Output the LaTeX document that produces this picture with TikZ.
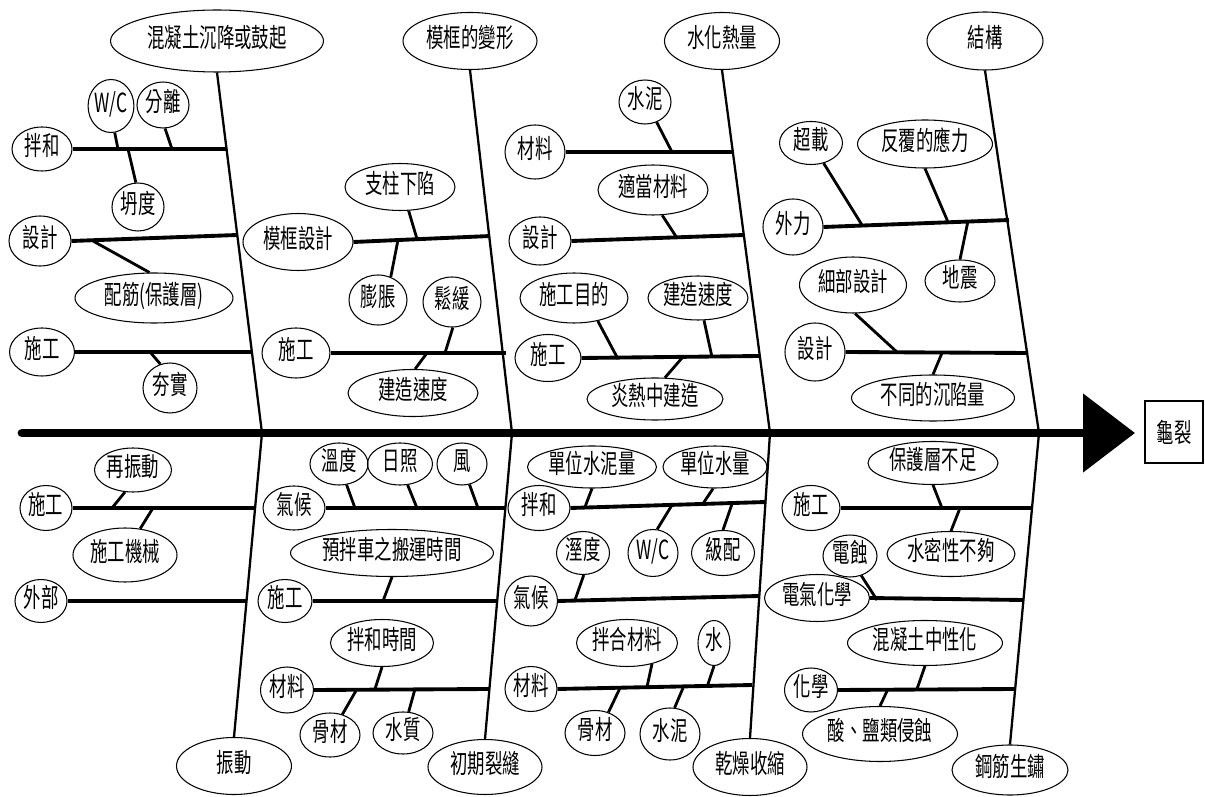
\documentclass[tikz,border=0pt]{standalone}
\usepackage{fontspec}
\newfontfamily\cjk[FakeStretch=0.66]{Noto Sans CJK TC}
\usetikzlibrary{
    shapes.geometric,
    arrows.meta,
    positioning
}
\tikzset{
    cause/.style={draw, ellipse, inner sep=0pt, line width=0.6pt,
        text height=0.8em, text depth=0.1em,
        font=\cjk\fontsize{15}{16}\selectfont},
    sz/.style 2 args={minimum width=#1*0.02cm, minimum height=#2*0.02cm},
    spine/.style={line width=5pt, line cap=round,
        -{Triangle[length=1.04cm, width=1.54cm]}},
    bone/.style={line width=1.3pt},
    branch/.style={line width=2.2pt},
    twig/.style={line width=1.6pt}
}

\begin{document}
\begin{tikzpicture}[x=0.02cm, y=-0.02cm]
    \useasboundingbox (0,0) rectangle (1205,797);

    % Effect and main spine
    \node[draw, line width=0.6pt, minimum width=1.16cm, minimum height=1.24cm,
        font=\cjk\fontsize{15}{16}\selectfont] (crack) at (1174,432) {龜裂};
    \coordinate (tail) at (22,433);
    \coordinate (tip) at (1135,433);
    \draw[spine] (tail) -- (tip);

    % Heads of the main bones
    \node[cause, sz={213}{62}] (h1) at (217,41) {混凝土沉降或鼓起};
    \node[cause, sz={134}{57}] (h2) at (470,41) {模框的變形};
    \node[cause, sz={115}{57}] (h3) at (722,41) {水化熱量};
    \node[cause, sz={116}{58}] (h4) at (985,41) {結構};
    \node[cause, sz={115}{57}] (h5) at (234,766) {振動};
    \node[cause, sz={114}{55}] (h6) at (485,767) {初期裂縫};
    \node[cause, sz={114}{57}] (h7) at (750,767) {乾燥收縮};
    \node[cause, sz={116}{50}] (h8) at (1010,770) {鋼筋生鏽};

    % Main bones
    \coordinate (s1) at (262,433);
    \coordinate (s2) at (512,433);
    \coordinate (s3) at (770,433);
    \coordinate (s4) at (1039,433);
    \draw[bone] (h1.south) -- (s1);
    \draw[bone] (h2.south) -- (s2);
    \draw[bone] (h3.south) -- (s3);
    \draw[bone] (h4.south) -- (s4);
    \draw[bone] (s1) -- (h5.north);
    \draw[bone] (s2) -- (h6.north);
    \draw[bone] (s3) -- (h7.north);
    \draw[bone] (s4) -- (h8.north);

    % Bone 1: concrete settling
    \node[cause, sz={60}{44}] (mix1) at (42,149) {拌和};
    \node[cause, sz={42}{53}] (wc1) at (111,106) {W/C};
    \node[cause, sz={52}{46}] (sep1) at (163,105) {分離};
    \node[cause, sz={52}{48}] (slump1) at (138,207) {坍度};
    \node[cause, sz={62}{50}] (des1) at (40,241) {設計};
    \node[cause, sz={158}{50}] (rebar1) at (154,298) {配筋(保護層)};
    \node[cause, sz={65}{48}] (con1) at (42,352) {施工};
    \node[cause, sz={54}{50}] (tamp1) at (170,388) {夯實};
    \coordinate (j1a) at (227,149);
    \coordinate (j1b) at (237,235);
    \coordinate (j1c) at (252,352);
    \draw[branch] (mix1.east) -- (j1a);
    \draw[branch] (des1.east) -- (j1b);
    \draw[branch] (con1.east) -- (j1c);
    \coordinate (k1a) at (118,149);
    \coordinate (k1b) at (172,149);
    \coordinate (k1c) at (128,149);
    \coordinate (k1d) at (93,241);
    \coordinate (k1e) at (150,352);
    \draw[twig] (wc1.278) -- (k1a);
    \draw[twig] (sep1.275) -- (k1b);
    \draw[twig] (slump1.95) -- (k1c);
    \draw[twig] (rebar1.100) -- (k1d);
    \draw[twig] (tamp1.112) -- (k1e);

    % Bone 2: formwork deformation
    \node[cause, sz={110}{57}] (fdes2) at (298,242) {模框設計};
    \node[cause, sz={110}{47}] (prop2) at (400,187) {支柱下陷};
    \node[cause, sz={58}{50}] (swell2) at (378,300) {膨脹};
    \node[cause, sz={58}{50}] (loose2) at (452,302) {鬆緩};
    \node[cause, sz={68}{50}] (con2) at (296,353) {施工};
    \node[cause, sz={130}{47}] (speed2) at (413,393) {建造速度};
    \coordinate (j2a) at (490,236);
    \coordinate (j2b) at (506,353);
    \draw[branch] (fdes2.east) -- (j2a);
    \draw[branch] (con2.east) -- (j2b);
    \coordinate (k2a) at (417,239);
    \coordinate (k2b) at (398,240);
    \coordinate (k2c) at (445,353);
    \coordinate (k2d) at (427,353);
    \draw[twig] (prop2.290) -- (k2a);
    \draw[twig] (swell2.61) -- (k2b);
    \draw[twig] (loose2.272) -- (k2c);
    \draw[twig] (speed2.85) -- (k2d);

    % Bone 3: heat of hydration
    \node[cause, sz={60}{54}] (mat3) at (535,152) {材料};
    \node[cause, sz={52}{44}] (cem3) at (645,102) {水泥};
    \node[cause, sz={62}{48}] (des3) at (540,241) {設計};
    \node[cause, sz={110}{50}] (fit3) at (653,190) {適當材料};
    \node[cause, sz={66}{47}] (con3) at (548,358) {施工};
    \node[cause, sz={108}{50}] (aim3) at (574,298) {施工目的};
    \node[cause, sz={100}{44}] (speed3) at (698,298) {建造速度};
    \node[cause, sz={136}{42}] (hot3) at (655,399) {炎熱中建造};
    \coordinate (j3a) at (733,152);
    \coordinate (j3b) at (744,235);
    \coordinate (j3c) at (759,356);
    \draw[branch] (mat3.east) -- (j3a);
    \draw[branch] (des3.east) -- (j3b);
    \draw[branch] (con3.east) -- (j3c);
    \coordinate (k3a) at (672,152);
    \coordinate (k3b) at (677,238);
    \coordinate (k3c) at (618,359);
    \coordinate (k3d) at (712,357);
    \coordinate (k3e) at (682,358);
    \draw[twig] (cem3.300) -- (k3a);
    \draw[twig] (fit3.290) -- (k3b);
    \draw[twig] (aim3.316) -- (k3c);
    \draw[twig] (speed3.285) -- (k3d);
    \draw[twig] (hot3.65) -- (k3e);

    % Bone 4: structure
    \node[cause, sz={60}{56}] (force4) at (793,227) {外力};
    \node[cause, sz={63}{43}] (over4) at (811,143) {超載};
    \node[cause, sz={135}{48}] (cyc4) at (925,144) {反覆的應力};
    \node[cause, sz={70}{42}] (quake4) at (960,281) {地震};
    \node[cause, sz={60}{58}] (des4) at (815,352) {設計};
    \node[cause, sz={107}{56}] (det4) at (853,285) {細部設計};
    \node[cause, sz={163}{46}] (settle4) at (933,398) {不同的沉陷量};
    \coordinate (j4a) at (1009,220);
    \coordinate (j4b) at (1028,353);
    \draw[branch] (force4.east) -- (j4a);
    \draw[branch] (des4.east) -- (j4b);
    \coordinate (k4a) at (862,225);
    \coordinate (k4b) at (948,222);
    \coordinate (k4c) at (968,221);
    \coordinate (k4d) at (898,353);
    \coordinate (k4e) at (942,353);
    \draw[twig] (over4.302) -- (k4a);
    \draw[twig] (cyc4.270) -- (k4b);
    \draw[twig] (quake4.90) -- (k4c);
    \draw[twig] (det4.274) -- (k4d);
    \draw[twig] (settle4.90) -- (k4e);

    % Bone 5: vibration
    \node[cause, sz={52}{45}] (con5) at (46,508) {施工};
    \node[cause, sz={77}{44}] (revib5) at (133,470) {再振動};
    \node[cause, sz={104}{54}] (mach5) at (125,555) {施工機械};
    \node[cause, sz={52}{43}] (ext5) at (41,601) {外部};
    \coordinate (j5a) at (255,508);
    \coordinate (j5b) at (246,601);
    \draw[branch] (con5.east) -- (j5a);
    \draw[branch] (ext5.east) -- (j5b);
    \coordinate (k5a) at (112,508);
    \coordinate (k5b) at (153,508);
    \draw[twig] (revib5.250) -- (k5a);
    \draw[twig] (mach5.60) -- (k5b);

    % Bone 6: early cracks
    \node[cause, sz={62}{44}] (clim6) at (294,508) {氣候};
    \node[cause, sz={58}{42}] (temp6) at (339,464) {溫度};
    \node[cause, sz={65}{42}] (sun6) at (400,464) {日照};
    \node[cause, sz={50}{42}] (wind6) at (462,464) {風};
    \node[cause, sz={54}{43}] (con6) at (285,601) {施工};
    \node[cause, sz={203}{47}] (haul6) at (392,553) {預拌車之搬運時間};
    \node[cause, sz={53}{46}] (mat6) at (287,690) {材料};
    \node[cause, sz={103}{47}] (mixt6) at (382,643) {拌和時間};
    \node[cause, sz={60}{44}] (agg6) at (330,735) {骨材};
    \node[cause, sz={60}{42}] (wat6) at (403,733) {水質};
    \coordinate (j6a) at (505,508);
    \coordinate (j6b) at (497,601);
    \coordinate (j6c) at (489,689);
    \draw[branch] (clim6.east) -- (j6a);
    \draw[branch] (con6.east) -- (j6b);
    \draw[branch] (mat6.east) -- (j6c);
    \coordinate (k6a) at (355,508);
    \coordinate (k6b) at (417,508);
    \coordinate (k6c) at (478,508);
    \coordinate (k6d) at (383,601);
    \coordinate (k6e) at (375,689);
    \coordinate (k6f) at (357,689);
    \coordinate (k6g) at (415,689);
    \draw[twig] (temp6.290) -- (k6a);
    \draw[twig] (sun6.290) -- (k6b);
    \draw[twig] (wind6.290) -- (k6c);
    \draw[twig] (haul6.270) -- (k6d);
    \draw[twig] (mixt6.270) -- (k6e);
    \draw[twig] (agg6.59) -- (k6f);
    \draw[twig] (wat6.75) -- (k6g);

    % Bone 7: drying shrinkage
    \node[cause, sz={62}{45}] (mix7) at (539,508) {拌和};
    \node[cause, sz={129}{42}] (cemq7) at (592,467) {單位水泥量};
    \node[cause, sz={104}{42}] (watq7) at (715,467) {單位水量};
    \node[cause, sz={53}{50}] (clim7) at (531,601) {氣候};
    \node[cause, sz={53}{43}] (hum7) at (583,553) {溼度};
    \node[cause, sz={50}{47}] (wc7) at (653,553) {W/C};
    \node[cause, sz={63}{45}] (grad7) at (723,553) {級配};
    \node[cause, sz={52}{45}] (mat7) at (531,689) {材料};
    \node[cause, sz={101}{47}] (admat7) at (627,643) {拌合材料};
    \node[cause, sz={32}{45}] (wat7) at (714,643) {水};
    \node[cause, sz={60}{45}] (agg7) at (595,733) {骨材};
    \node[cause, sz={60}{52}] (cem7) at (670,734) {水泥};
    \coordinate (j7a) at (766,502);
    \coordinate (j7b) at (759,596);
    \coordinate (j7c) at (752,685);
    \draw[branch] (mix7.east) -- (j7a);
    \draw[branch] (clim7.east) -- (j7b);
    \draw[branch] (mat7.east) -- (j7c);
    \coordinate (k7a) at (585,507);
    \coordinate (k7b) at (702,505);
    \coordinate (k7c) at (575,600);
    \coordinate (k7d) at (672,505);
    \coordinate (k7e) at (732,504);
    \coordinate (k7f) at (647,687);
    \coordinate (k7g) at (707,687);
    \coordinate (k7h) at (620,688);
    \coordinate (k7i) at (683,688);
    \draw[twig] (cemq7.270) -- (k7a);
    \draw[twig] (watq7.265) -- (k7b);
    \draw[twig] (hum7.272) -- (k7c);
    \draw[twig] (wc7.80) -- (k7d);
    \draw[twig] (grad7.90) -- (k7e);
    \draw[twig] (admat7.320) -- (k7f);
    \draw[twig] (wat7.270) -- (k7g);
    \draw[twig] (agg7.57) -- (k7h);
    \draw[twig] (cem7.80) -- (k7i);

    % Bone 8: rebar corrosion
    \node[cause, sz={58}{45}] (con8) at (811,508) {施工};
    \node[cause, sz={130}{43}] (cover8) at (933,463) {保護層不足};
    \node[cause, sz={128}{45}] (tight8) at (951,554) {水密性不夠};
    \node[cause, sz={105}{47}] (elec8) at (817,598) {電氣化學};
    \node[cause, sz={54}{42}] (corr8) at (850,556) {電蝕};
    \node[cause, sz={53}{44}] (chem8) at (811,690) {化學};
    \node[cause, sz={155}{45}] (neut8) at (925,643) {混凝土中性化};
    \node[cause, sz={155}{55}] (acid8) at (880,734) {酸、鹽類侵蝕};
    \coordinate (j8a) at (1031,508);
    \coordinate (j8b) at (1023,600);
    \coordinate (j8c) at (1014,689);
    \draw[branch] (con8.east) -- (j8a);
    \draw[branch] (elec8.east) -- (j8b);
    \draw[branch] (chem8.east) -- (j8c);
    \coordinate (k8a) at (942,508);
    \coordinate (k8b) at (960,508);
    \coordinate (k8c) at (877,600);
    \coordinate (k8d) at (917,689);
    \coordinate (k8e) at (888,689);
    \draw[twig] (cover8.270) -- (k8a);
    \draw[twig] (tight8.90) -- (k8b);
    \draw[twig] (corr8.300) -- (k8c);
    \draw[twig] (neut8.270) -- (k8d);
    \draw[twig] (acid8.90) -- (k8e);
\end{tikzpicture}
\end{document}
